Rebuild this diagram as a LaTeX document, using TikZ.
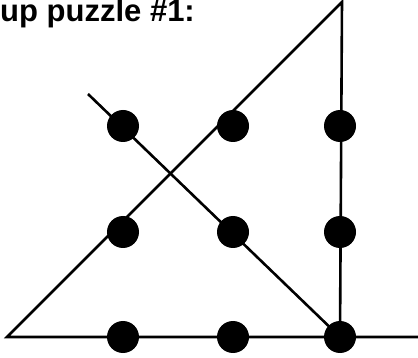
\documentclass[tikz,border=0pt]{standalone}
\usepackage{fontspec}
\setmainfont{Liberation Sans}
\usetikzlibrary{backgrounds}
\begin{document}
\begin{tikzpicture}[x=1pt,y=-1pt,
  dot/.style={circle,fill=black,inner sep=0pt,minimum size=32pt},
  stroke/.style={line width=2.6pt,line join=miter}]
\useasboundingbox (0,0) rectangle (418,358);

\node[anchor=base west,inner sep=0pt,font=\fontsize{31}{36}\selectfont\bfseries] (title) at (0,22) {up puzzle \#1:};
\foreach \i/\x in {1/123,2/233,3/340} \foreach \j/\y in {1/126,2/232,3/337} { \node[dot] (d\i\j) at (\x,\y) {}; }
\coordinate (left) at (7,337);
\coordinate (apex) at (342,2);
\coordinate (tail) at (88,94);
\coordinate (right) at (418,337);
\begin{pgfonlayer}{background}
\draw[stroke] (right) -- (left) -- (apex) -- (d33.center);
\draw[stroke] (tail) -- (d33.center);
\end{pgfonlayer}

\end{tikzpicture}
\end{document}
